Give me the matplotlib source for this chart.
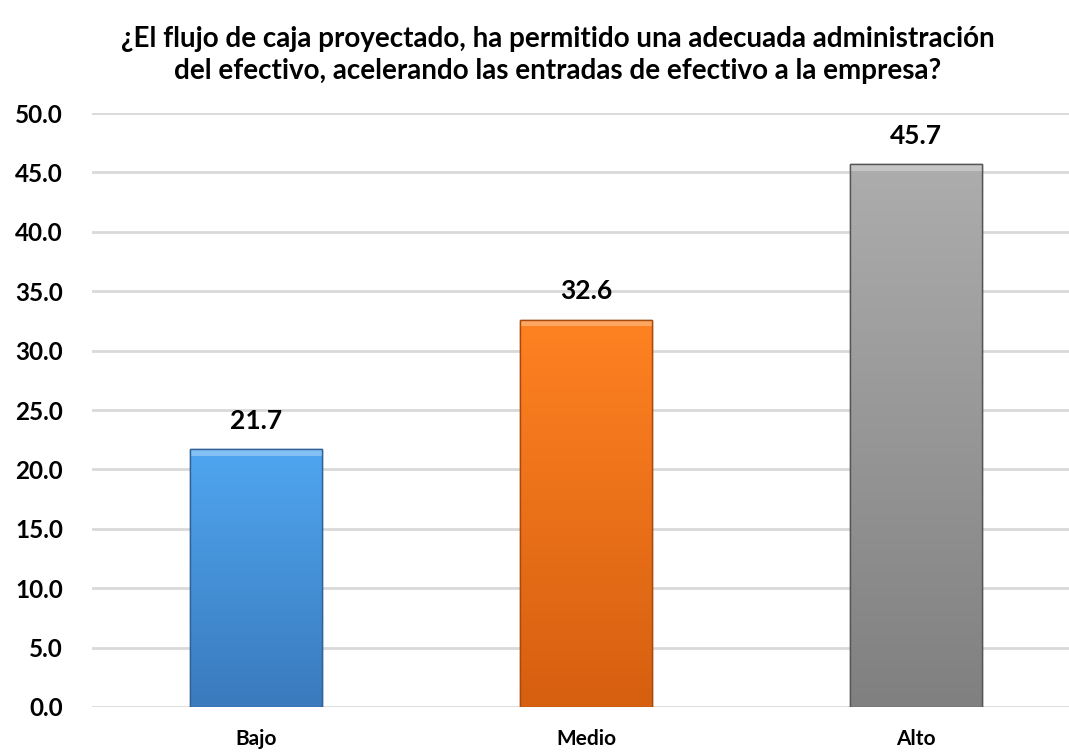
import matplotlib
matplotlib.use("Agg")
import matplotlib.pyplot as plt
import numpy as np
from matplotlib.colors import LinearSegmentedColormap

categories = ["Bajo", "Medio", "Alto"]
values = [21.7, 32.6, 45.7]
yticks = [0, 5, 10, 15, 20, 25, 30, 35, 40, 45, 50]
title = ("¿El flujo de caja proyectado, ha permitido una adecuada administración\n"
         "del efectivo, acelerando las entradas de efectivo a la empresa?")

top_colors = ["#4FA6F0", "#FF8222", "#ADADAD"]
bot_colors = ["#3A7ABD", "#D65F10", "#808080"]
edge_colors = ["#2F6398", "#A84A0C", "#555555"]

plt.rcParams['font.family'] = ['Lato', 'DejaVu Sans']
plt.rcParams['font.weight'] = 'bold'

fig = plt.figure(figsize=(10.69, 7.53), dpi=100)
ax = fig.add_axes([92/1069, 46/753, 977/1069, 594/753])

x = np.arange(len(categories))
width = 0.4
bars = ax.bar(x, values, width=width, color=top_colors, edgecolor=edge_colors,
              linewidth=1.0, zorder=3)

for b, tc, bc in zip(bars, top_colors, bot_colors):
    x0, y0 = b.get_x(), b.get_y()
    w, h = b.get_width(), b.get_height()
    cmap = LinearSegmentedColormap.from_list("g", [bc, tc])
    grad = np.linspace(0, 1, 256).reshape(-1, 1)
    im = ax.imshow(grad, cmap=cmap, origin="lower", aspect="auto",
                   extent=[x0, x0 + w, y0, y0 + h], zorder=3.5)
    im.set_clip_path(b)
    # bevel highlight along top
    ax.fill_between([x0, x0 + w], [y0 + h - 0.55] * 2, [y0 + h] * 2,
                    color="white", alpha=0.3, zorder=3.6, linewidth=0)
    ax.add_patch(plt.Rectangle((x0, y0), w, h, fill=False,
                               edgecolor=b.get_edgecolor(), linewidth=1.0, zorder=3.7))

for xi, v in zip(x, values):
    ax.text(xi, v + 2.4, f"{v:.1f}", ha="center", va="center",
            fontsize=19, fontweight="bold", color="#000000")

ax.set_xlim(-0.497, 2.464)
ax.set_ylim(0, 50)
ax.set_yticks(yticks)
ax.set_yticklabels([f"{t:.1f}" for t in yticks])
ax.set_xticks(x)
ax.set_xticklabels(categories)
ax.tick_params(axis="y", length=0, pad=21, labelsize=17.5)
ax.tick_params(axis="x", length=0, pad=16, labelsize=15)
for lab in ax.get_xticklabels() + ax.get_yticklabels():
    lab.set_fontweight("bold")
ax.grid(axis="y", color="#D9D9D9", linewidth=2, zorder=0)
ax.set_axisbelow(True)
for s in ax.spines.values():
    s.set_visible(False)

fig.text(558/1069, 1 - 55/753, title, ha="center", va="center",
         fontsize=20, fontweight="bold", linespacing=1.25)

fig.savefig("out.png", dpi=100)
